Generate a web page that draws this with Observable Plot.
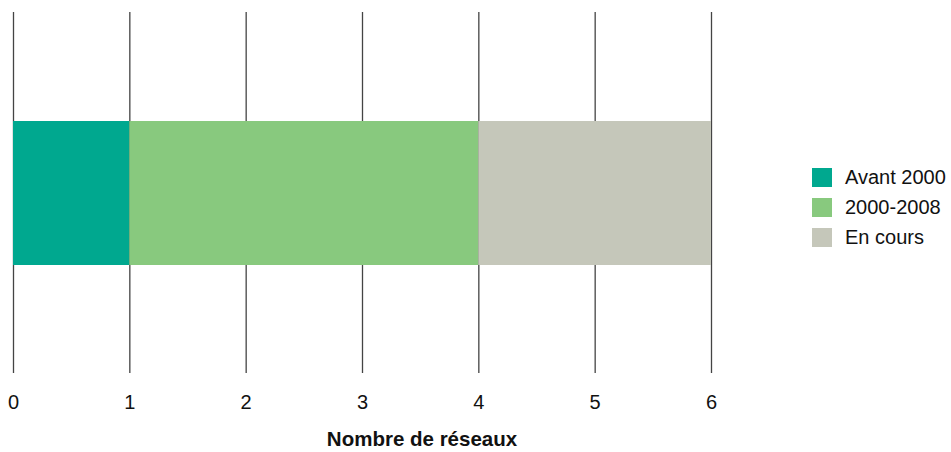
<!DOCTYPE html>
<html>
<head>
<meta charset="utf-8">
<script src="https://cdn.jsdelivr.net/npm/d3@7"></script>
<script src="https://cdn.jsdelivr.net/npm/@observablehq/plot@0.6"></script>
<style>
  body { margin: 0; background: #fff; font-family: "Liberation Sans", Arial, sans-serif; }
  #wrap { position: relative; width: 951px; height: 452px; }
  #legend { position: absolute; left: 812px; top: 167px; font-size: 20px; color: #111; }
  .row { display: flex; align-items: center; height: 20px; margin-bottom: 10px; white-space: nowrap; }
  .sw { width: 20px; height: 19px; margin-right: 13px; flex: none; }
  #xtitle { position: absolute; left: 422px; top: 427px; transform: translateX(-50%); font-size: 20.5px; font-weight: bold; color: #111; white-space: nowrap; line-height: normal; }
</style>
</head>
<body>
<div id="wrap"></div>
<script>
const categories = ["Avant 2000", "2000-2008", "En cours"];
const values = [1, 3, 2];
const colors = ["#00A88F", "#88C97E", "#C5C7BA"];
const xTicks = [0, 1, 2, 3, 4, 5, 6];
const xTitle = "Nombre de réseaux";

const data = categories.map((c, i) => ({category: c, value: values[i], group: "réseaux"}));

const chart = Plot.plot({
  width: 951,
  height: 452,
  marginTop: 12,
  marginBottom: 79,
  marginLeft: 13,
  marginRight: 240,
  style: {fontFamily: "Liberation Sans, Arial, sans-serif", fontSize: "20px", color: "#111", background: "#fff"},
  x: {domain: [0, 6], ticks: xTicks, tickSize: 0, tickPadding: 21, label: null, tickFormat: d => String(d)},
  y: {domain: ["réseaux"], padding: 0.43, axis: null},
  color: {domain: categories, range: colors},
  marks: [
    Plot.ruleX(xTicks, {stroke: "#444", strokeWidth: 1.3}),
    Plot.barX(data, Plot.stackX({x: "value", y: "group", fill: "category", order: null}))
  ]
});

const wrap = document.getElementById("wrap");
wrap.appendChild(chart);

const legend = document.createElement("div");
legend.id = "legend";
categories.forEach((c, i) => {
  const row = document.createElement("div");
  row.className = "row";
  const sw = document.createElement("span");
  sw.className = "sw";
  sw.style.background = colors[i];
  const t = document.createElement("span");
  t.textContent = c;
  row.appendChild(sw);
  row.appendChild(t);
  legend.appendChild(row);
});
wrap.appendChild(legend);

const title = document.createElement("div");
title.id = "xtitle";
title.textContent = xTitle;
wrap.appendChild(title);
</script>
</body>
</html>
